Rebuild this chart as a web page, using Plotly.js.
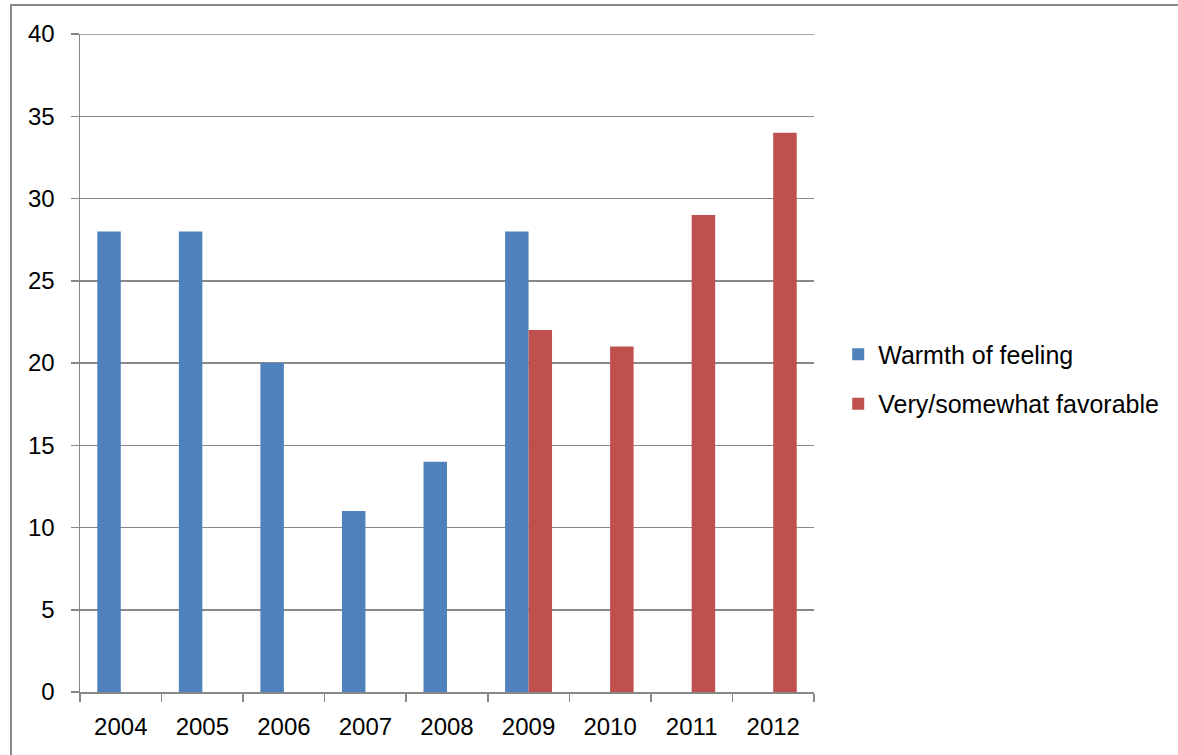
<!DOCTYPE html>
<html>
<head>
<meta charset="utf-8">
<script src="https://cdn.plot.ly/plotly-3.0.1.min.js"></script>
<style>
  html, body { margin: 0; padding: 0; background: #fff; overflow: hidden; }
  #chart { position: absolute; left: 0; top: 0; width: 1178px; height: 755px; }
  #frame { position: absolute; left: 10px; top: 4px; width: 1300px; height: 900px;
           border: 2px solid #8a8a8a; pointer-events: none; box-sizing: border-box; }
</style>
</head>
<body>
<div id="chart"></div>
<div id="frame"></div>
<script>
const years = ['2004', '2005', '2006', '2007', '2008', '2009', '2010', '2011', '2012'];
const warmth = [28, 28, 20, 11, 14, 28, null, null, null];
const favorable = [null, null, null, null, null, 22, 21, 29, 34];
const yTicks = [0, 5, 10, 15, 20, 25, 30, 35, 40];
const seriesNames = ['Warmth of feeling', 'Very/somewhat favorable'];

const fontFam = 'Liberation Sans, Arial, sans-serif';

const data = [
  { type: 'bar', x: years, y: warmth, name: seriesNames[0], legendgroup: 'a',
    marker: { color: '#4F81BD' } },
  { type: 'bar', x: years, y: favorable, name: seriesNames[1], legendgroup: 'b',
    marker: { color: '#C0504D' } }
];

const layout = {
  width: 1178, height: 755,
  paper_bgcolor: '#ffffff', plot_bgcolor: '#ffffff',
  margin: { l: 80, r: 364, t: 34, b: 63, pad: 0, autoexpand: false },
  barmode: 'group', bargap: 0.424, bargroupgap: 0,
  font: { family: fontFam, size: 24, color: '#000' },
  showlegend: true,
  legend: { x: 1.033, y: 0.4757, xanchor: 'left', yanchor: 'middle',
            font: { family: fontFam, size: 25, color: '#000' },
            traceorder: 'grouped', tracegroupgap: 14, itemwidth: 30 },
  xaxis: {
    type: 'category', tickson: 'boundaries', ticks: 'outside', ticklen: 8,
    tickcolor: '#888', tickwidth: 1.5, showline: true, linecolor: '#888', linewidth: 1.5,
    showgrid: false, tickfont: { size: 24 }, ticklabelstandoff: 13
  },
  yaxis: {
    range: [0, 40], tickvals: yTicks, ticks: 'outside', ticklen: 8,
    tickcolor: '#888', tickwidth: 1.5, showline: true, linecolor: '#888', linewidth: 1.5,
    showgrid: true, gridcolor: '#888', gridwidth: 1.5, zeroline: false,
    tickfont: { size: 24 }, ticklabelstandoff: 11
  },
  shapes: [
    { type: 'line', xref: 'paper', yref: 'y', x0: 0, x1: 1, y0: 40, y1: 40,
      line: { color: '#888', width: 1.5 }, layer: 'below' }
  ]
};

Plotly.newPlot('chart', data, layout, { displayModeBar: false, staticPlot: true });
</script>
</body>
</html>
